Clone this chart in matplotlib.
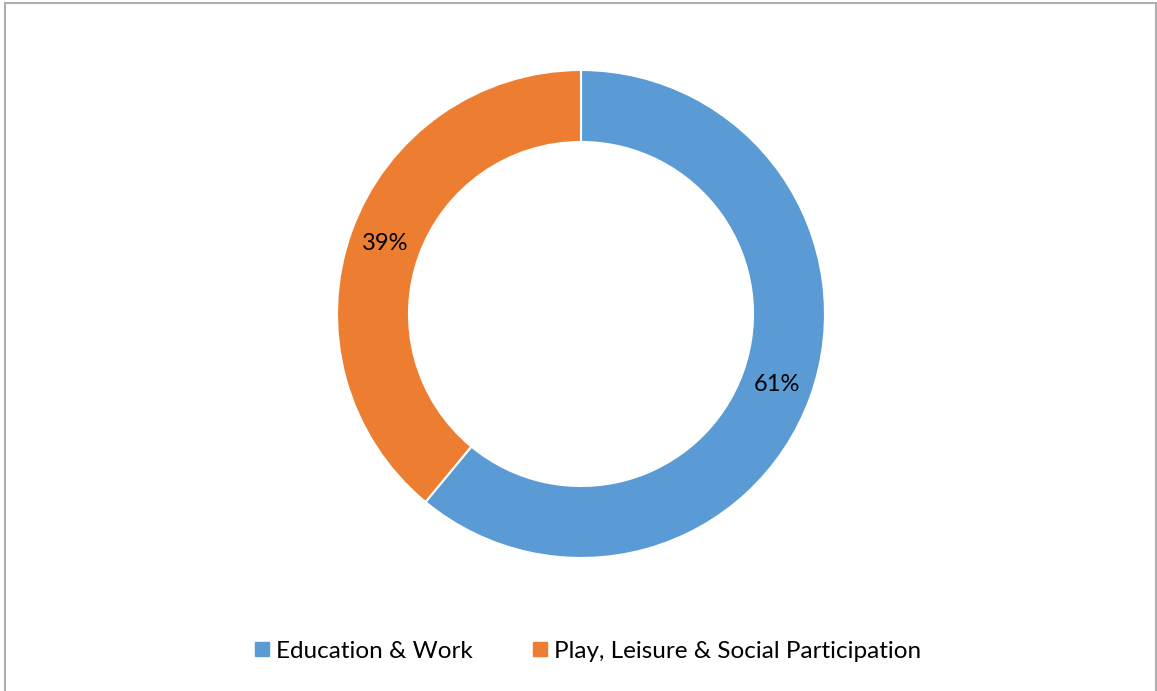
import matplotlib.pyplot as plt
from matplotlib.patches import Rectangle
from matplotlib.lines import Line2D

labels = ['Education & Work', 'Play, Leisure & Social Participation']
shares = [61, 39]
colors = ['#5B9BD5', '#ED7D31']

plt.rcParams['font.family'] = ['Lato', 'DejaVu Sans']

W, H = 1157, 691
fig = plt.figure(figsize=(W / 100, H / 100), dpi=100)

# chart frame
fig.add_artist(Rectangle((5 / W, -0.05), 1151 / W, 1 - 2.5 / H + 0.05,
                         transform=fig.transFigure, fill=False,
                         edgecolor='#AFAFAF', linewidth=1.5))

# donut: centre (581, 314), outer radius 244 px
cx, cy, r = 581, 314, 244
ax = fig.add_axes([(cx - r) / W, (H - cy - r) / H, 2 * r / W, 2 * r / H])
ax.pie(shares, colors=colors, startangle=90, counterclock=False,
       radius=1.0, autopct='%d%%', pctdistance=0.853,
       wedgeprops=dict(width=0.295, edgecolor='white', linewidth=1.5),
       textprops=dict(fontsize=17, color='#000000'))
ax.set_xlim(-1, 1)
ax.set_ylim(-1, 1)
ax.set_aspect('equal')
ax.axis('off')

handles = [Line2D([], [], marker='s', linestyle='none', markersize=10,
                  markerfacecolor=c, markeredgecolor=c) for c in colors]
fig.legend(handles, labels, loc='center', bbox_to_anchor=(586 / W, 1 - 651 / H),
           ncol=2, frameon=False, fontsize=17.5, handletextpad=0.15,
           columnspacing=2.3, handlelength=0.9)

fig.savefig('out.png', dpi=100)
